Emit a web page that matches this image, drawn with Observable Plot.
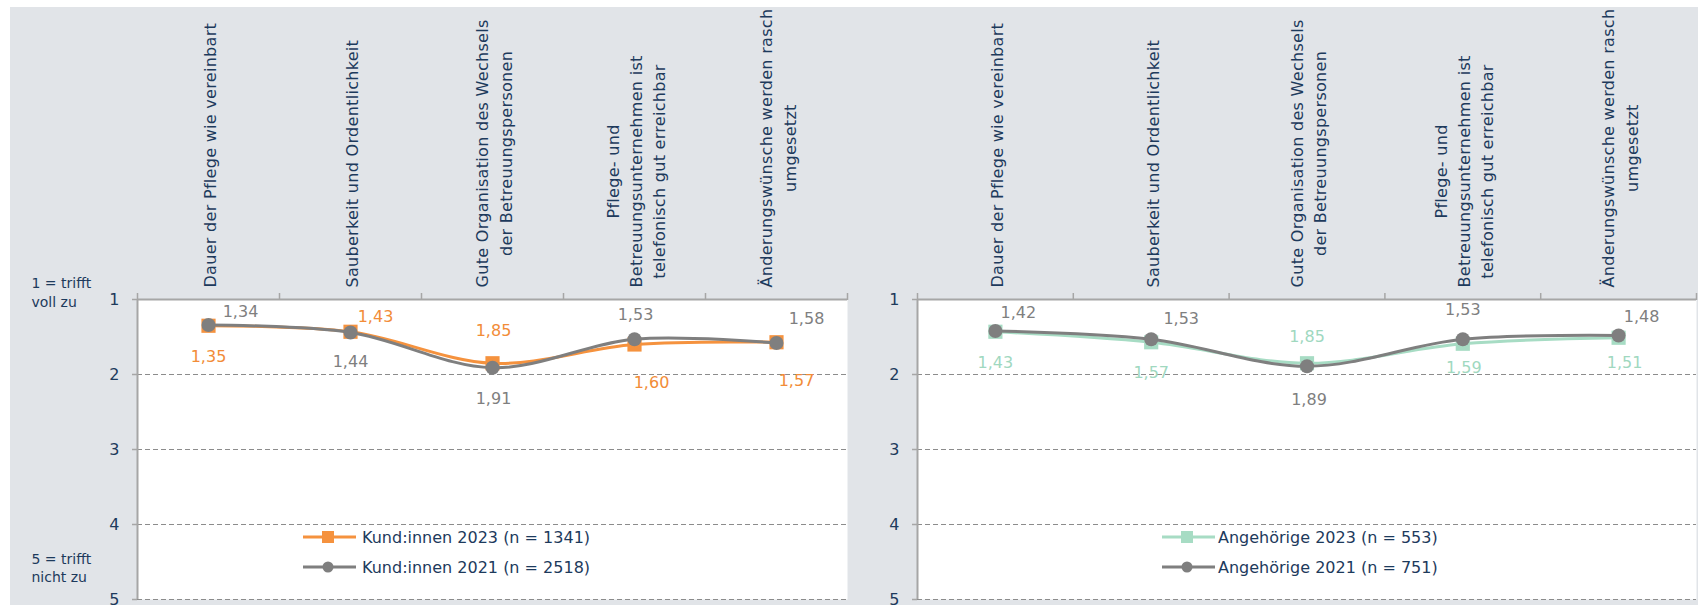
<!DOCTYPE html>
<html>
<head>
<meta charset="utf-8">
<script src="https://cdn.jsdelivr.net/npm/d3@7"></script>
<script src="https://cdn.jsdelivr.net/npm/@observablehq/plot@0.6"></script>
<style>
  html, body { margin: 0; padding: 0; background: #ffffff; }
  #wrap { position: relative; width: 1698px; height: 605px; overflow: hidden; font-family: "DejaVu Sans", sans-serif; }
  #bg { position: absolute; left: 10px; top: 7px; right: 0; bottom: 0; background: #e1e4e8; }
  .panel { position: absolute; top: 0; }
  .legend { position: absolute; color: #1d3a5c; font-size: 16px; }
  .legend .row { display: flex; align-items: center; height: 30px; white-space: nowrap; }
  .legend svg { display: block; }
</style>
</head>
<body>
<div id="wrap">
  <div id="bg"></div>
  <div id="left" class="panel" style="left:0px"></div>
  <div id="right" class="panel" style="left:870px"></div>
</div>
<script>
// ---- data ----
const categories = [
  "Dauer der Pflege wie vereinbart",
  "Sauberkeit und Ordentlichkeit",
  "Gute Organisation des Wechsels\nder Betreuungspersonen",
  "Pflege- und\nBetreuungsunternehmen ist\ntelefonisch gut erreichbar",
  "Änderungswünsche werden rasch\numgesetzt"
];
const kunden2023 = [1.35, 1.43, 1.85, 1.60, 1.57];
const kunden2021 = [1.34, 1.44, 1.91, 1.53, 1.58];
const angehoerige2023 = [1.43, 1.57, 1.85, 1.59, 1.51];
const angehoerige2021 = [1.42, 1.53, 1.89, 1.53, 1.48];
const yTicks = [1, 2, 3, 4, 5];
const seriesNames = {
  k23: "Kund:innen 2023 (n = 1341)",
  k21: "Kund:innen 2021 (n = 2518)",
  a23: "Angehörige 2023 (n = 553)",
  a21: "Angehörige 2021 (n = 751)"
};
const scaleTop = "1 = trifft\nvoll zu";
const scaleBottom = "5 = trifft\nnicht zu";

// label offsets (pixels) for value labels
const offK23 = [[0, 31], [25, -15], [1, -32], [17, 38], [20, 39]];
const offK21 = [[32, -13.5], [0, 29], [1, 31], [1, -24], [30, -24.5]];
const offA23 = [[0, 31], [0, 31], [0, -26], [1, 24], [6, 25]];
const offA21 = [[23, -18.5], [30, -20], [2, 34], [0, -29], [23, -19]];

// ---- styles ----
const NAVY = "#1d3a5c";
const AXIS = "#a6a6a6";
const GRID = "#8c8c8c";
const GRAY = "#7f7f7f";
const ORANGE = "#f5923e";
const ORANGE_TXT = "#f28c38";
const MINT = "#a7dcc4";
const MINT_TXT = "#a0d8bf";

const fmt = v => v.toFixed(2).replace(".", ",");
const boundaries = d3.range(categories.length + 1).map(i => i - 0.5);
const flatCats = categories.map(c => c.replace(/\n/g, ""));

function panel(opts) {
  const {el, width, mLeft, mRight, s23, s21, c23, c23txt, off23, off21, sideLabels} = opts;
  const rows23 = s23.map((v, i) => ({i, v}));
  const rows21 = s21.map((v, i) => ({i, v}));
  const labelMarks = [];
  rows23.forEach((d, k) => labelMarks.push(Plot.text([d], {
    x: "i", y: "v", text: r => fmt(r.v), dx: off23[k][0], dy: off23[k][1],
    fill: c23txt, fontSize: 16, textAnchor: "middle", lineAnchor: "middle"
  })));
  rows21.forEach((d, k) => labelMarks.push(Plot.text([d], {
    x: "i", y: "v", text: r => fmt(r.v), dx: off21[k][0], dy: off21[k][1],
    fill: GRAY, fontSize: 16, textAnchor: "middle", lineAnchor: "middle"
  })));
  const side = sideLabels ? [
    Plot.text([scaleTop], {frameAnchor: "top-left", lineAnchor: "middle", dx: -106, dy: -8, textAnchor: "start",
      fontSize: 14, lineHeight: 1.32, fill: NAVY}),
    Plot.text([scaleBottom], {frameAnchor: "bottom-left", lineAnchor: "middle", dx: -106, dy: -32.5, textAnchor: "start",
      fontSize: 14, lineHeight: 1.32, fill: NAVY})
  ] : [];
  const chart = Plot.plot({
    width, height: 605,
    marginLeft: mLeft, marginRight: mRight, marginTop: 299, marginBottom: 6,
    style: {fontFamily: "DejaVu Sans", background: "transparent", overflow: "visible"},
    x: {type: "linear", domain: [-0.5, categories.length - 0.5]},
    y: {domain: [1, 5], reverse: true},
    marks: [
      Plot.frame({fill: "#ffffff", stroke: null}),
      Plot.ruleY([2, 3, 4, 5], {stroke: GRID, strokeWidth: 1, strokeDasharray: "5,3"}),
      Plot.axisX(boundaries, {anchor: "top", tickSize: 7, tickFormat: () => "", stroke: AXIS, strokeWidth: 1.5, label: null}),
      Plot.axisY(yTicks, {anchor: "left", tickSize: 5, tickPadding: 13, fontSize: 16, color: NAVY, fill: NAVY, stroke: AXIS, strokeWidth: 1.5, tickFormat: d => String(d), label: null}),
      Plot.ruleY([1], {stroke: AXIS, strokeWidth: 2}),
      Plot.ruleX([-0.5], {stroke: AXIS, strokeWidth: 2}),
      Plot.text(categories, {x: (d, i) => i, frameAnchor: "top", lineAnchor: "middle", dy: -12, rotate: -90,
        textAnchor: "start", lineHeight: 1.45, fontSize: 16, fill: NAVY}),
      Plot.line(rows23, {x: "i", y: "v", stroke: c23, strokeWidth: 3, curve: "catmull-rom"}),
      Plot.dot(rows23, {x: "i", y: "v", symbol: "square", r: 8, fill: c23, stroke: null}),
      Plot.line(rows21, {x: "i", y: "v", stroke: GRAY, strokeWidth: 3, curve: "catmull-rom"}),
      Plot.dot(rows21, {x: "i", y: "v", symbol: "circle", r: 7, fill: GRAY, stroke: null}),
      ...labelMarks,
      ...side
    ]
  });
  el.appendChild(chart);
  // header labels: letter spacing + center lines within each block
  d3.select(chart).selectAll("text").each(function() {
    if (!flatCats.includes(this.textContent)) return;
    this.setAttribute("letter-spacing", "0.3");
    const spans = Array.from(this.querySelectorAll("tspan"));
    if (spans.length > 1) {
      const lens = spans.map(s => s.getComputedTextLength());
      const mx = Math.max(...lens);
      spans.forEach((s, k) => s.setAttribute("x", (mx - lens[k]) / 2));
    }
  });
  return chart;
}

function legend(left, top, textLeft, items) {
  const div = document.createElement("div");
  div.className = "legend";
  div.style.left = left + "px";
  div.style.top = top + "px";
  items.forEach(it => {
    const row = document.createElement("div");
    row.className = "row";
    const svg = d3.create("svg").attr("width", textLeft).attr("height", 20);
    svg.append("line").attr("x1", 0).attr("x2", 53).attr("y1", 10).attr("y2", 10)
      .attr("stroke", it.color).attr("stroke-width", 3);
    if (it.symbol === "square") {
      svg.append("rect").attr("x", 25 - 6).attr("y", 4).attr("width", 12).attr("height", 12).attr("fill", it.color);
    } else {
      svg.append("circle").attr("cx", 25).attr("cy", 10).attr("r", 5.5).attr("fill", it.color);
    }
    row.appendChild(svg.node());
    const span = document.createElement("span");
    span.textContent = it.label;
    row.appendChild(span);
    div.appendChild(row);
  });
  document.getElementById("wrap").appendChild(div);
}

panel({el: document.getElementById("left"), width: 870, mLeft: 137, mRight: 23,
  s23: kunden2023, s21: kunden2021, c23: ORANGE, c23txt: ORANGE_TXT, off23: offK23, off21: offK21, sideLabels: true});
panel({el: document.getElementById("right"), width: 828, mLeft: 47, mRight: 2,
  s23: angehoerige2023, s21: angehoerige2021, c23: MINT, c23txt: MINT_TXT, off23: offA23, off21: offA21, sideLabels: false});

legend(303, 522, 59, [
  {label: seriesNames.k23, color: ORANGE, symbol: "square"},
  {label: seriesNames.k21, color: GRAY, symbol: "circle"}
]);
legend(1162, 522, 56, [
  {label: seriesNames.a23, color: MINT, symbol: "square"},
  {label: seriesNames.a21, color: GRAY, symbol: "circle"}
]);
</script>
</body>
</html>
